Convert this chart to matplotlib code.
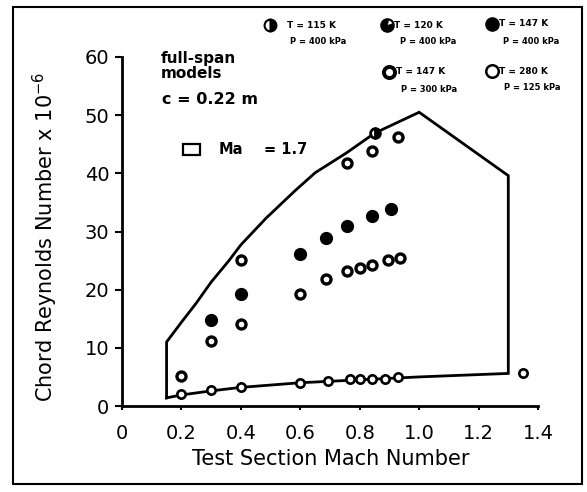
import matplotlib
matplotlib.use("Agg")
import matplotlib.pyplot as plt
from matplotlib.path import Path
from matplotlib.lines import Line2D
from matplotlib.patches import Rectangle

W, H = 587, 492

# ---------------- data ----------------
# operating envelope (closed outline)
env_mach = [0.15, 0.15, 0.20, 0.25, 0.30, 0.36, 0.40, 0.485, 0.58, 0.65, 0.755,
            0.85, 0.95, 1.00, 1.30, 1.30, 1.00, 0.80, 0.60, 0.40, 0.30, 0.20, 0.15]
env_re = [1.4, 11.0, 14.4, 17.7, 21.3, 25.0, 27.7, 32.3, 36.9, 40.1, 43.5,
          46.9, 49.3, 50.5, 39.6, 5.6, 5.0, 4.5, 4.0, 3.2, 2.6, 1.9, 1.4]

mach_115 = [0.85]
re_115 = [46.9]

mach_120 = [0.40, 0.757, 0.843, 0.93]
re_120 = [25.1, 41.7, 43.8, 46.3]

mach_147_400 = [0.30, 0.40, 0.60, 0.685, 0.757, 0.84, 0.905]
re_147_400 = [14.8, 19.2, 26.2, 28.9, 31.0, 32.7, 33.9]

mach_147_300 = [0.20, 0.30, 0.40, 0.60, 0.685, 0.757, 0.80, 0.84, 0.895, 0.935]
re_147_300 = [5.2, 11.1, 14.1, 19.2, 21.9, 23.2, 23.8, 24.3, 25.1, 25.5]

mach_280 = [0.20, 0.30, 0.40, 0.60, 0.694, 0.767, 0.802, 0.841, 0.885, 0.93, 1.35]
re_280 = [2.1, 2.8, 3.2, 4.0, 4.3, 4.6, 4.6, 4.6, 4.7, 5.0, 5.65]

x_ticks = [0, 0.2, 0.4, 0.6, 0.8, 1.0, 1.2, 1.4]
x_tick_labels = ["0", "0.2", "0.4", "0.6", "0.8", "1.0", "1.2", "1.4"]
y_ticks = [0, 10, 20, 30, 40, 50, 60]

legend_T = ["T = 115 K", "T = 120 K", "T = 147 K", "T = 147 K", "T = 280 K"]
legend_P = ["P = 400 kPa", "P = 400 kPa", "P = 400 kPa", "P = 300 kPa", "P = 125 kPa"]

# ---------------- figure ----------------
plt.rcParams['font.family'] = ['DejaVu Sans']
fig = plt.figure(figsize=(W / 100, H / 100), dpi=100)


def fx(px):
    return px / W


def fy(py):
    return 1 - py / H


ax = fig.add_axes([fx(122), fy(406), 416 / W, 349 / H])
ax.set_xlim(0, 1.4)
ax.set_ylim(0, 60)
for s in ["top", "right"]:
    ax.spines[s].set_visible(False)
for s in ["left", "bottom"]:
    ax.spines[s].set_linewidth(2.0)

ax.set_xticks(x_ticks)
ax.set_xticklabels(x_tick_labels)
ax.set_yticks(y_ticks)
ax.tick_params(axis="y", direction="out", length=5, width=1.5, labelsize=14, pad=4)
ax.tick_params(axis="x", direction="out", length=3, width=1.5, labelsize=14, pad=10)

# envelope
ax.plot(env_mach, env_re, color="black", lw=2.0, solid_joinstyle="miter", clip_on=False)

wedge = Path.wedge(80, 380)

ring_thick = dict(marker="o", ms=6.5, mfc="white", mec="black", mew=2.4, ls="none", clip_on=False)
ring_thin = dict(marker="o", ms=6.0, mfc="white", mec="black", mew=1.9, ls="none", clip_on=False)
filled = dict(marker="o", ms=8.5, mfc="black", mec="black", mew=1, ls="none", clip_on=False)
half = dict(marker="o", ms=7, mfc="black", mec="black", mew=2.0, fillstyle="right",
            markerfacecoloralt="white", ls="none", clip_on=False)

ax.plot(mach_115, re_115, **half, zorder=4)
ax.plot(mach_120, re_120, **ring_thick, zorder=4)
ax.plot(mach_147_400, re_147_400, **filled, zorder=4)
ax.plot(mach_147_300, re_147_300, **ring_thick, zorder=4)
ax.plot(mach_280, re_280, **ring_thin, zorder=4)

fig.text(fx(331), fy(459), "Test Section Mach Number", fontsize=15, ha="center", va="center")
fig.text(fx(45), fy(237), "Chord Reynolds Number x 10$^{-6}$", rotation=90,
         fontsize=15, ha="center", va="center")

# annotations
fig.text(fx(161), fy(59), "full-span", fontsize=11, fontweight="bold", ha="left", va="center")
fig.text(fx(161), fy(74), "models", fontsize=11, fontweight="bold", ha="left", va="center")
fig.text(fx(162), fy(99), "c = 0.22 m", fontsize=11.5, fontweight="bold", ha="left", va="center")
fig.add_artist(Rectangle((fx(183), fy(155)), 17 / W, 11 / H, transform=fig.transFigure,
                         fill=False, lw=1.6, ec="black"))
fig.text(fx(219), fy(149), "Ma", fontsize=10.5, fontweight="bold", ha="left", va="center")
fig.text(fx(264), fy(149), "= 1.7", fontsize=10.5, fontweight="bold", ha="left", va="center")

# legend (top right)
leg_pos = [(270, 25), (387, 25), (492, 24), (389, 72), (492, 71)]
leg_t_off = [17, 7, 7, 7, 7]
leg_p_off = [20, 13, 11, 12, 12]
leg_styles = ["half", "wedge", "filled", "thick", "thin"]
for (mx, my), st, tt, pp, to, po in zip(leg_pos, leg_styles, legend_T, legend_P,
                                        leg_t_off, leg_p_off):
    kw = dict(transform=fig.transFigure, clip_on=False)
    if st == "half":
        fig.add_artist(Line2D([fx(mx)], [fy(my)], marker="o", ms=8.5, mfc="black", mec="black",
                              mew=1.5, fillstyle="right", markerfacecoloralt="white", **kw))
    elif st == "wedge":
        fig.add_artist(Line2D([fx(mx)], [fy(my)], marker="o", ms=9, mfc="white", mec="black",
                              mew=1.5, **kw))
        fig.add_artist(Line2D([fx(mx)], [fy(my)], marker=wedge, ms=9, mfc="black", mec="black",
                              mew=0.5, **kw))
    elif st == "filled":
        fig.add_artist(Line2D([fx(mx)], [fy(my)], marker="o", ms=9.5, mfc="black", mec="black", **kw))
    elif st == "thick":
        fig.add_artist(Line2D([fx(mx)], [fy(my)], marker="o", ms=8, mfc="white", mec="black",
                              mew=2.8, **kw))
    else:
        fig.add_artist(Line2D([fx(mx)], [fy(my)], marker="o", ms=9, mfc="white", mec="black",
                              mew=1.8, **kw))
    fig.text(fx(mx + to), fy(my), tt, fontsize=6.5, fontweight="bold", ha="left", va="center")
    fig.text(fx(mx + po), fy(my + 17), pp, fontsize=6, fontweight="bold", ha="left", va="center")

# outer frame of the scanned figure
fig.add_artist(Rectangle((fx(13), fy(484)), (582 - 13) / W, (484 - 7) / H,
                         transform=fig.transFigure, fill=False, lw=1.5, ec="black"))

fig.savefig("out.png", dpi=100)
